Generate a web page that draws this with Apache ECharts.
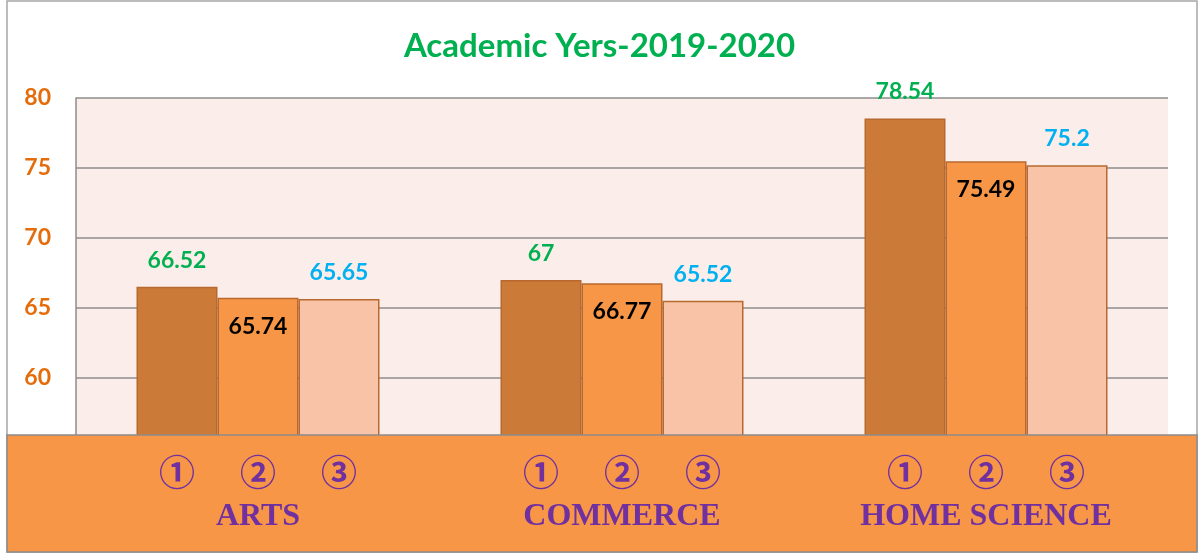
<!DOCTYPE html>
<html>
<head>
<meta charset="utf-8">
<script src="https://cdn.jsdelivr.net/npm/echarts@6/dist/echarts.min.js"></script>
<style>
  html, body { margin: 0; padding: 0; background: #fff; }
  #main { width: 1199px; height: 557px; }
</style>
</head>
<body>
<div id="main"></div>
<script>
// chart data
const categories = ['ARTS', 'COMMERCE', 'HOME SCIENCE'];
const subLabels = ['①', '②', '③'];
const series1 = [66.52, 67, 78.54];
const series2 = [65.74, 66.77, 75.49];
const series3 = [65.65, 65.52, 75.2];
const yTicks = [55, 60, 65, 70, 75, 80];

const labelFont = { fontFamily: 'Lato', fontWeight: 'bold', fontSize: 23 };
const barBorder = { borderColor: '#B8692F', borderWidth: 1.5 };

let myChart = echarts.init(document.getElementById('main'));
let option = {
    animation: false,
    title: {
        text: 'Academic Yers-2019-2020',
        left: 'center',
        top: 25,
        textStyle: { color: '#00B050', fontFamily: 'Lato', fontWeight: 'bold', fontSize: 33 }
    },
    grid: {
        left: 76,
        right: 31,
        top: 98,
        bottom: 109,
        show: true,
        backgroundColor: '#FBEEEA',
        borderWidth: 0
    },
    xAxis: {
        type: 'category',
        data: categories,
        z: 20,
        axisLine: { show: false },
        axisTick: { show: false },
        axisLabel: {
            margin: 4,
            formatter: function (v) {
                return subLabels.map(s => '{n|' + s + '}').join('') + '\n{c|' + v + '}';
            },
            rich: {
                n: {
                    width: 81, align: 'center', lineHeight: 40,
                    fontFamily: 'Noto Sans CJK SC', fontWeight: 'bold', fontSize: 36, color: '#7030A0'
                },
                c: {
                    lineHeight: 50, align: 'center',
                    fontFamily: 'Liberation Serif', fontWeight: 'bold', fontSize: 32, color: '#7030A0'
                }
            }
        }
    },
    yAxis: {
        type: 'value',
        min: yTicks[0],
        max: yTicks[yTicks.length - 1],
        interval: 5,
        axisLine: { show: true, lineStyle: { color: '#8C8C8C', width: 1.5 } },
        axisTick: { show: false },
        splitLine: { lineStyle: { color: '#8C8C8C', width: 1.5 } },
        axisLabel: {
            showMinLabel: false,
            margin: 25,
            color: '#E46C0A',
            fontFamily: 'Lato', fontWeight: 'bold', fontSize: 23
        }
    },
    graphic: [
        {
            type: 'rect',
            z: -10,
            shape: { x: 7, y: 1, width: 1190, height: 551 },
            style: { fill: 'none', stroke: '#A6A6A6', lineWidth: 1.5 }
        },
        {
            type: 'rect',
            z: 10,
            shape: { x: 7, y: 435, width: 1190, height: 117 },
            style: { fill: '#F79646', stroke: '#8C8C8C', lineWidth: 1.5 }
        }
    ],
    series: [
        {
            name: 'S1',
            type: 'bar',
            data: series1,
            barWidth: 81,
            barGap: '0%',
            itemStyle: Object.assign({ color: '#CC7A38' }, barBorder),
            label: Object.assign({ show: true, position: 'top', distance: 15, color: '#00B050' }, labelFont)
        },
        {
            name: 'S2',
            type: 'bar',
            data: series2,
            barWidth: 81,
            barGap: '0%',
            itemStyle: Object.assign({ color: '#F79646' }, barBorder),
            label: Object.assign({ show: true, position: 'insideTop', distance: 17, color: '#000000' }, labelFont)
        },
        {
            name: 'S3',
            type: 'bar',
            data: series3,
            barWidth: 81,
            barGap: '0%',
            itemStyle: Object.assign({ color: '#F9C3A7' }, barBorder),
            label: Object.assign({ show: true, position: 'top', distance: 15, color: '#00B0F0' }, labelFont)
        }
    ]
};
myChart.setOption(option);
</script>
</body>
</html>
